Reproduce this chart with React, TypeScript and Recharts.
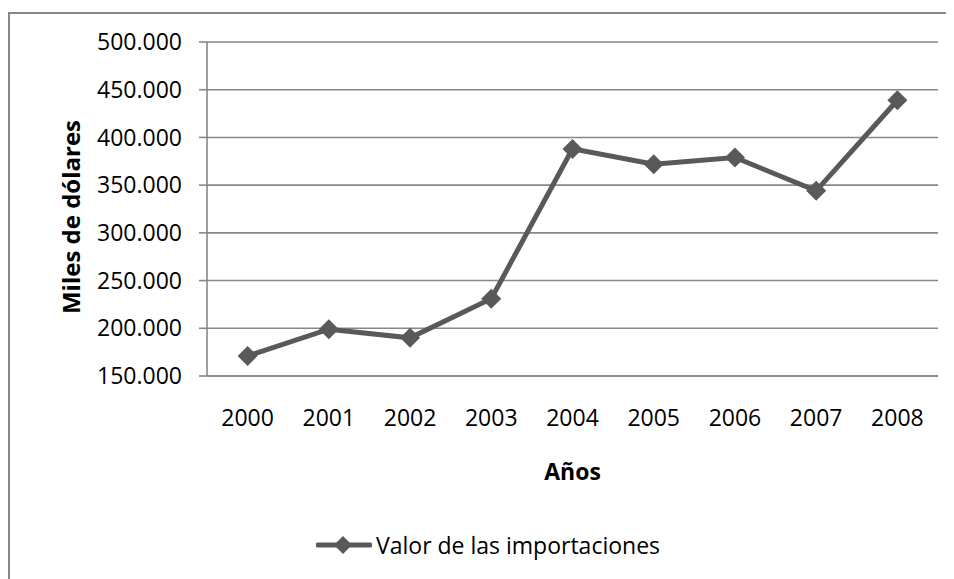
import React from 'react';
import { LineChart, Line, XAxis, YAxis, CartesianGrid, Legend } from 'recharts';

const years = ['2000', '2001', '2002', '2003', '2004', '2005', '2006', '2007', '2008'];
const importValues = [171000, 199000, 190000, 231000, 388000, 372000, 379000, 344000, 439000];
const yTicks = [150000, 200000, 250000, 300000, 350000, 400000, 450000, 500000];
const seriesName = 'Valor de las importaciones';
const yTitle = 'Miles de dólares';
const xTitle = 'Años';

const data = years.map((y, i) => ({ year: y, value: importValues[i] }));

const FONT = '"Open Sans", sans-serif';
const LINE = '#595959';
const GRID = '#878787';

const fmt = (v: number) => String(v).replace(/\B(?=(\d{3})+(?!\d))/g, '.');

const Diamond = (props: any) => {
  const { cx, cy } = props;
  if (cx == null || cy == null) return null;
  const s = 10;
  return <polygon points={`${cx},${cy - s} ${cx + s},${cy} ${cx},${cy + s} ${cx - s},${cy}`} fill={LINE} />;
};

const LegendContent = () => (
  <div style={{ display: 'flex', alignItems: 'center', fontFamily: FONT, fontSize: 23, color: '#000' }}>
    <svg width={56} height={24} style={{ display: 'block' }}>
      <line x1={2} y1={12} x2={54} y2={12} stroke={LINE} strokeWidth={5} strokeLinecap="round" />
      <polygon points="27,3 36,12 27,21 18,12" fill={LINE} />
    </svg>
    <span style={{ marginLeft: 4, whiteSpace: 'nowrap' }}>{seriesName}</span>
  </div>
);

export default function App() {
  return (
    <div style={{ position: 'relative', width: 946, height: 571 }}>
      <div
        style={{
          position: 'absolute',
          top: 4,
          left: 0,
          width: 946,
          height: 567,
          borderTop: `2px solid ${GRID}`,
          borderLeft: `2px solid ${GRID}`,
          boxSizing: 'border-box',
        }}
      />
      <div style={{ position: 'absolute', top: 0, left: 0 }}>
        <LineChart width={946} height={571} data={data} margin={{ top: 34, right: 16, left: 0, bottom: 103 }}>
          <CartesianGrid horizontal vertical={false} stroke={GRID} strokeWidth={1.6} />
          <XAxis
            dataKey="year"
            scale="band"
            height={100}
            tickSize={0}
            tickMargin={34}
            tickLine={false}
            axisLine={{ stroke: GRID, strokeWidth: 1.6 }}
            tick={{ fill: '#000', fontSize: 23, fontFamily: FONT }}
            interval={0}
            label={(p: any) => {
              const vb = p.viewBox;
              return (
                <text x={vb.x + vb.width / 2} y={472} textAnchor="middle" fontFamily={FONT} fontSize={23} fontWeight="bold" fill="#000">
                  {xTitle}
                </text>
              );
            }}
          />
          <YAxis
            width={199}
            domain={[150000, 500000]}
            ticks={yTicks}
            tickFormatter={fmt}
            tickSize={8}
            tickMargin={17}
            tickLine={{ stroke: GRID, strokeWidth: 1.6 }}
            axisLine={{ stroke: GRID, strokeWidth: 1.6 }}
            tick={{ fill: '#000', fontSize: 23, fontFamily: FONT }}
            label={(p: any) => {
              const vb = p.viewBox;
              const cy = vb.y + vb.height / 2 + 8;
              const cx = 63;
              return (
                <text x={cx} y={cy} transform={`rotate(-90 ${cx} ${cy})`} dy={8.5} textAnchor="middle" fontFamily={FONT} fontSize={24} fontWeight="bold" fill="#000">
                  {yTitle}
                </text>
              );
            }}
          />
          <Legend
            layout="horizontal"
            verticalAlign="middle"
            align="center"
            content={<LegendContent />}
            wrapperStyle={{ position: 'absolute', top: 521, left: 308, width: 420, height: 30 }}
          />
          <Line
            type="linear"
            dataKey="value"
            name={seriesName}
            stroke={LINE}
            strokeWidth={5}
            dot={<Diamond />}
            activeDot={false}
            isAnimationActive={false}
          />
        </LineChart>
      </div>
    </div>
  );
}
